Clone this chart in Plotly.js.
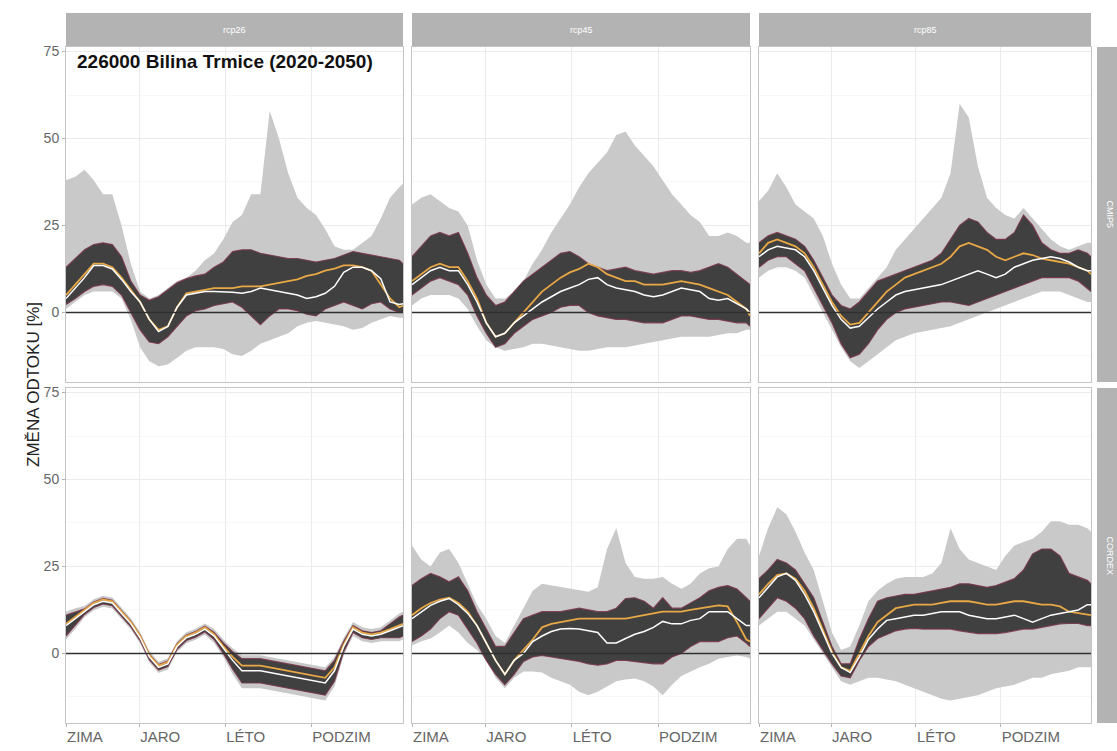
<!DOCTYPE html>
<html>
<head>
<meta charset="utf-8">
<script src="https://cdn.plot.ly/plotly-3.0.1.min.js"></script>
<style>html,body{margin:0;padding:0;background:#fff;}#chart{width:1117px;height:751px;}</style>
</head>
<body>
<div id="chart"></div>
<script>
// ---------- data ----------
const days = [1,11,21,31,41,51,61,71,81,91,101,111,121,131,141,151,161,171,181,191,201,211,221,231,241,251,261,271,281,291,301,311,321,331,341,351,361,365];
const seasonTicks = [1, 80, 173, 266];
const seasonLabels = ['ZIMA', 'JARO', 'LÉTO', 'PODZIM'];
const scenarios = ['rcp26', 'rcp45', 'rcp85'];
const ensembles = ['CMIP5', 'CORDEX'];
const yTicks = [0, 25, 50, 75];

// CMIP5 / rcp26
const cmip_rcp26_envLo = [1,3,5,6,6,6,4,-2,-10,-14,-15.5,-15,-13,-11,-10,-10,-10,-10.5,-12,-12.5,-11,-9,-8,-7,-6,-4,-3,-2.5,-3,-3.5,-4,-5,-4.5,-3,-2,-1,-1.5,-1.5];
const cmip_rcp26_envHi = [38,39,41,38,34,34,25,14,6,4,5,7,9,10,12,15,17,21,26,28,34,34,58,50,40,33,30,28,24,19,18,18,20,22,27,33,36,37];
const cmip_rcp26_midLo = [2.3,4,6,7.5,8,7.5,5,0,-5,-8.5,-9,-7,-4,-1,0.5,1,2,2.5,3,1.5,-1,-3.5,-1,1,1,0.5,-0.5,-1,1,2,3,2,1,2.5,3,1,0,0];
const cmip_rcp26_midHi = [13,15.5,18,19.5,20,19.5,16,9,5,3.5,4.5,6.5,8.5,9.7,10.5,11,13,14.5,17.5,18,18,17,16.5,16,15.5,15.5,15,14.5,15,15.5,16.5,17.5,17,16.6,16,15.5,15,14];
const cmip_rcp26_white = [4,7,10,13.5,13.5,12.5,9.5,6,3,-2,-5.5,-4,1.5,5,5.5,6,6,6,5.8,5.5,6,7,6.5,6,5.5,5,4,4.5,5.5,7.5,11.5,13,13,12,9.7,3,2.3,2.5];
const cmip_rcp26_orange = [5,8,11,14,14,13,10,6.5,3,-2,-5,-4,1.5,5.5,6,6.5,7,7,7,7.5,7.5,7.5,8,8.5,9,9.5,10.5,11,12,12.6,13.5,13.5,13,12,8,4,1.5,2];

// CMIP5 / rcp45
const cmip_rcp45_envLo = [2,4,5,5,5,4,1,-4,-8,-10,-11,-10.5,-10,-9,-9,-9.5,-10,-10.5,-11,-11,-10.5,-10,-10,-10,-9.5,-9,-8.5,-8,-7.5,-7,-7,-7,-7,-6.5,-6,-6,-5,-5];
const cmip_rcp45_envHi = [31,33,34,32,30,29,25,15,8,4,4,6,9,14,18,23,27,31,36,40,43,46,51,52,48,45,42,38,34,31,28,26,22,22,23,22,20,20];
const cmip_rcp45_midLo = [5,7,9,10,9,8,5,-1,-6,-10,-9,-6,-4,-2,-1,0,1.5,2,2,0,-1,-1.5,-2,-2,-2.5,-3,-3,-3,-2,-1,-1,-1.5,-2,-2,-2.5,-3,-3,-4];
const cmip_rcp45_midHi = [16,19,22,23,22,23,17,10,5,2,3,6,9,11,13,15,17,17.5,16,14,13,12,12.5,13,12,11.5,11,11.5,12,12,11.5,12,13,14,13,11,9,8];
const cmip_rcp45_white = [8,10,12,13,12,12,8,3,-3,-7,-6,-3,-1,1,3,4.5,6,7,8,9.5,10,8,7,6.5,6,5,4.5,5,6,7,6.5,6,4,3.5,4,2.5,1,0];
const cmip_rcp45_orange = [9,11,13,14,13,13,9,4,-3,-7,-6,-3,0,3,6,8,10,11.5,12.5,14,13,11,10,9,9,8,8,8,8.5,9,8.5,8,7,6,5,3,1,-1];

// CMIP5 / rcp85
const cmip_rcp85_envLo = [10,12,13,13,12,10,5,0,-5,-10,-14,-16,-14,-12,-10,-8,-7,-6,-5.5,-5,-4.5,-4,-3,-2,-1,0,1,2,3,4,5,6,6,6,5,4,3,3];
const cmip_rcp85_envHi = [32,35,40,36,31,29,27,22,14,8,4,4,7,10,13,18,21,24,27,30,33,40,60,56,42,33,30,28,27,30,27,24,21,19,18,19,20,20];
const cmip_rcp85_midLo = [13,15,16,16,14,12,7,2,-3,-9,-13,-12,-9,-5,-2,0,1,1.5,2,2.5,3,3,2.5,2,3,4,5,6,7,8,9,10,10,10,10,9,7,6];
const cmip_rcp85_midHi = [20,22,23,22,21,19,15,10,5,2,1,3,6,9,10,11,12,13,14,15,17,21,25,27,26,23,21,21,23,28,25,20,18,17,17,18,17,16];
const cmip_rcp85_white = [16,18,19,18.5,18,16,12,7,2,-2,-4.5,-4,-1.5,1,3,5,6,6.5,7,7.5,8,9,10,11,12,11,10,11,13,14,15,15.5,16,15.5,14.5,13,12,12];
const cmip_rcp85_orange = [17,20,21,20,19,17,13,8,3,-1,-3.5,-3,0,3,6,8,10,11,12,13,14,16,19,20,19,18,16,15,16,17,16.5,15.5,15,14.5,14,13,12,11];

// CORDEX / rcp26
const cordex_rcp26_envLo = [4,7,10.4,12.4,13.4,12.9,9.9,6.9,2.9,-2.6,-5.6,-4.6,0.4,2.9,3.9,5.4,3,-1,-6,-10,-10,-10,-10.5,-11,-11.5,-12,-12.5,-13,-13.5,-9.5,-0.5,5,3.5,3,3.5,3.5,3.5,4];
const cordex_rcp26_envHi = [12,13,13.6,15.6,16.6,16.1,13.1,10.1,6.1,0.6,-2.4,-1.4,3.6,6.1,7.1,8.6,7,4,1.5,-0.5,-0.5,-0.5,-1,-1.5,-2,-2.5,-3,-3.5,-4,-1,4.5,9,7.5,7,7.5,9.5,11.5,12];
const cordex_rcp26_midLo = [5,8,11.2,13.2,14.2,13.7,10.7,7.7,3.7,-1.8,-4.8,-3.8,1.2,3.7,4.7,6.2,4,0,-4.5,-8.5,-8.5,-8.5,-9,-9.5,-10,-10.5,-11,-11.5,-12,-8,0.5,6,4.5,4,4.5,4.5,4.5,5];
const cordex_rcp26_midHi = [11,12,12.8,14.8,15.8,15.3,12.3,9.3,5.3,-0.2,-3.2,-2.2,2.8,5.3,6.3,7.8,6,3,0.5,-1.5,-1.5,-1.5,-2,-2.5,-3,-3.5,-4,-4.5,-5,-2,3.5,8,6.5,6,6.5,8.5,10.5,11];
const cordex_rcp26_white = [8,10,12,14,15,14.5,11.5,8.5,4.5,-1,-4,-3,2,4.5,5.5,7,5,1.5,-2,-5,-5,-5,-5.5,-6,-6.5,-7,-7.5,-8,-8.5,-5,2,7,5.5,5,5.5,6.5,7.5,8];
const cordex_rcp26_orange = [8.5,10.5,12.5,14.5,15.5,15,12,9,5,-0.5,-3.5,-2.5,2.5,5,6,7.5,5.5,2,-1,-3.5,-3.5,-3.5,-4,-4.5,-5,-5.5,-6,-6.5,-7,-4,2.5,7.5,6,5.5,6,7,8,8.5];

// CORDEX / rcp45
const cordex_rcp45_envLo = [2.3,3.5,4.3,6,8,6,3,1,-2,-7,-10,-7,-5.2,-5.2,-5.5,-7,-8,-9,-11,-12,-11,-9.5,-8,-7.5,-7.2,-8,-9.5,-12,-9,-6.5,-5.2,-4,-3,-1.5,-1,-0.6,-1,-1.5];
const cordex_rcp45_envHi = [31,27,25,29,30,26,20,14,10,5,3,8,13,18,20,19.5,19,18.5,18,17.7,19,30,36,26,22,21.5,21.5,22,20,18.6,20,23,24.5,25,30,33,33,31];
const cordex_rcp45_midLo = [3.4,5,7,10,12,11,7,3,-2,-6,-9,-6,-2.3,-1,-0.6,-1,-1.4,-2,-2.3,-3,-3.4,-3,-2,-2,-2.3,-2.5,-3,-3,-1,0,2,3.4,3.4,3.4,4.5,5,3,2];
const cordex_rcp45_midHi = [19.5,21.5,23,22,20.6,22,18,12,7,2,2,6,10,11,12,12,12,12.5,13,12.5,12,12,13,15.8,16,15,13,16,13,13,14.5,16,18,19,19.5,18.5,16,15];
const cordex_rcp45_white = [10,12,13.8,15,15.8,14,11.5,8,3,-2,-6,-2,0,3.4,5,6.3,7,7.2,7,6.5,6,3,3,4.3,5.5,6.3,7.5,9.2,8.5,8.5,9.5,10,12,12,12,10,8,8];
const cordex_rcp45_orange = [11,13,14.5,15.5,16,14.5,12,8,3,-2,-6,-2,1,4,7.5,8.5,9,9.5,10,10,10,10,10,10,10.5,10.9,11.5,12,12,12,12.5,12.9,13.5,13.8,13.5,9,4,3.4];

// CORDEX / rcp85
const cordex_rcp85_envLo = [8,10,12,12,10,8,4,0,-4,-8,-9,-8,-7,-7,-7.5,-8,-9,-10,-11,-12,-13,-13.5,-13,-12.5,-12,-11,-10,-9.5,-9,-8,-7,-7,-6,-5.5,-5,-4,-4,-4];
const cordex_rcp85_envHi = [28,36,42,40,35,29,24,15,6,1,2,8,15,18,20,21.5,22,22,22,23,26,36,30,27,26,25,24,28,31,32,33,35,38,38,37,37,36,35];
const cordex_rcp85_midLo = [10,13,16,15,13,10,5,1,-3,-6.5,-7,-2,2,4.3,5.5,6.5,7,7.2,7,7,7,7,6.5,6,5.7,5.7,5.7,6,6.5,7,7,7.5,8,8.5,8.6,8.6,8,8];
const cordex_rcp85_midHi = [21.5,24,27,26,24,20,16,9,2,-3,-3,4,10,15,16,16.5,17,17,17.5,18,18.6,19,20,20,19.5,19,19.5,20.5,21.5,24,28.6,30,30,28,23,22,21,20];
const cordex_rcp85_white = [16,19,22,23,21,17,12,6,0,-4,-5.5,-1,4,7,9.5,10,10.5,11,11,11.5,12,12,12,11,10.5,10,10,10.5,11,10,9,10,11,11.5,12,12.5,14,14];
const cordex_rcp85_orange = [17,20,22.5,23,21.5,18,13,7,0.5,-4,-5,0,5,9,11,13,13.5,14,14,14,14.5,15,15,15,14.5,14,14,14.5,15,15,14.5,14,14,13.5,12,11.5,11,11];

// ---------- panels ----------
const panels = [
  {envLo: cmip_rcp26_envLo, envHi: cmip_rcp26_envHi, midLo: cmip_rcp26_midLo, midHi: cmip_rcp26_midHi, white: cmip_rcp26_white, orange: cmip_rcp26_orange},
  {envLo: cmip_rcp45_envLo, envHi: cmip_rcp45_envHi, midLo: cmip_rcp45_midLo, midHi: cmip_rcp45_midHi, white: cmip_rcp45_white, orange: cmip_rcp45_orange},
  {envLo: cmip_rcp85_envLo, envHi: cmip_rcp85_envHi, midLo: cmip_rcp85_midLo, midHi: cmip_rcp85_midHi, white: cmip_rcp85_white, orange: cmip_rcp85_orange},
  {envLo: cordex_rcp26_envLo, envHi: cordex_rcp26_envHi, midLo: cordex_rcp26_midLo, midHi: cordex_rcp26_midHi, white: cordex_rcp26_white, orange: cordex_rcp26_orange},
  {envLo: cordex_rcp45_envLo, envHi: cordex_rcp45_envHi, midLo: cordex_rcp45_midLo, midHi: cordex_rcp45_midHi, white: cordex_rcp45_white, orange: cordex_rcp45_orange},
  {envLo: cordex_rcp85_envLo, envHi: cordex_rcp85_envHi, midLo: cordex_rcp85_midLo, midHi: cordex_rcp85_midHi, white: cordex_rcp85_white, orange: cordex_rcp85_orange}
];

// ---------- layout geometry (pixels) ----------
const W = 1117, H = 751;
const colPx = [[66, 403], [412, 750], [759, 1091]];
const rowPx = [[47, 382], [388, 723]];
const px2x = p => p / W;
const px2y = p => 1 - p / H;

const FONT = 'Liberation Sans, Arial, sans-serif';
const traces = [];
const layout = {
  width: W, height: H, autosize: false,
  margin: {l: 0, r: 0, t: 0, b: 0, pad: 0},
  paper_bgcolor: '#ffffff', plot_bgcolor: '#ffffff',
  showlegend: false,
  font: {family: FONT, color: '#4d4d4d'},
  shapes: [], annotations: []
};

panels.forEach((p, i) => {
  const n = i + 1;
  const row = Math.floor(i / 3), col = i % 3;
  const xa = n === 1 ? 'x' : 'x' + n;
  const ya = n === 1 ? 'y' : 'y' + n;
  const base = {x: days, xaxis: xa, yaxis: ya, mode: 'lines', hoverinfo: 'skip', showlegend: false};
  traces.push(Object.assign({}, base, {y: p.envLo, line: {width: 0, color: '#c9c9c9'}}));
  traces.push(Object.assign({}, base, {y: p.envHi, fill: 'tonexty', fillcolor: '#c9c9c9', line: {width: 0, color: '#c9c9c9'}}));
  traces.push(Object.assign({}, base, {y: p.midLo, line: {width: 1.2, color: 'rgba(120,52,70,0.85)'}}));
  traces.push(Object.assign({}, base, {y: p.midHi, fill: 'tonexty', fillcolor: '#404040', line: {width: 1.2, color: 'rgba(120,52,70,0.85)'}}));
  traces.push(Object.assign({}, base, {y: p.orange, line: {width: 1.8, color: '#e8a846'}}));
  traces.push(Object.assign({}, base, {y: p.white, line: {width: 1.5, color: '#ffffff'}}));

  const xKey = n === 1 ? 'xaxis' : 'xaxis' + n;
  const yKey = n === 1 ? 'yaxis' : 'yaxis' + n;
  layout[xKey] = {
    domain: [px2x(colPx[col][0]), px2x(colPx[col][1])],
    anchor: ya, range: [1, 365], fixedrange: true,
    tickmode: 'array', tickvals: seasonTicks, ticktext: seasonLabels,
    showticklabels: row === 1, ticks: row === 1 ? 'outside' : '', ticklen: 3, tickcolor: '#b3b3b3',
    ticklabelposition: 'outside right',
    tickfont: {family: FONT, size: 15, color: '#666666'},
    showgrid: true, gridcolor: '#ebebeb', gridwidth: 1,
    zeroline: false, showline: true, mirror: true, linecolor: '#c4c4c4', linewidth: 1
  };
  layout[yKey] = {
    domain: [px2y(rowPx[row][1]), px2y(rowPx[row][0])],
    anchor: xa, range: [-20, 76.3], fixedrange: true,
    tickmode: 'array', tickvals: yTicks,
    showticklabels: col === 0, ticks: col === 0 ? 'outside' : '', ticklen: 3, tickcolor: '#b3b3b3',
    tickfont: {family: FONT, size: 14, color: '#666666'},
    showgrid: true, gridcolor: '#ebebeb', gridwidth: 1,
    minor: {dtick: 12.5, tick0: 0, showgrid: true, gridcolor: '#f4f4f4', gridwidth: 0.6, ticks: ''},
    zeroline: false, showline: true, mirror: true, linecolor: '#c4c4c4', linewidth: 1
  };
  layout.shapes.push({type: 'line', xref: xa + ' domain', yref: ya, x0: 0, x1: 1, y0: 0, y1: 0,
    line: {color: '#303030', width: 1.6}, layer: 'above'});
});

// top strips
scenarios.forEach((s, c) => {
  layout.shapes.push({type: 'rect', xref: 'paper', yref: 'paper',
    x0: px2x(colPx[c][0]), x1: px2x(colPx[c][1]), y0: px2y(46), y1: px2y(13),
    fillcolor: '#b3b3b3', line: {width: 0}, layer: 'below'});
  layout.annotations.push({xref: 'paper', yref: 'paper', x: px2x((colPx[c][0] + colPx[c][1]) / 2), y: px2y(29.5),
    text: s, showarrow: false, xanchor: 'center', yanchor: 'middle', font: {family: FONT, size: 9, color: '#ffffff'}});
});
// right strips
ensembles.forEach((e, r) => {
  layout.shapes.push({type: 'rect', xref: 'paper', yref: 'paper',
    x0: px2x(1097), x1: 1.02, y0: px2y(rowPx[r][1]), y1: px2y(rowPx[r][0]),
    fillcolor: '#b3b3b3', line: {width: 0}, layer: 'below'});
  layout.annotations.push({xref: 'paper', yref: 'paper', x: px2x(1110), y: px2y((rowPx[r][0] + rowPx[r][1]) / 2),
    text: e, showarrow: false, textangle: 90, xanchor: 'center', yanchor: 'middle', font: {family: FONT, size: 9, color: '#ffffff'}});
});
// title inside first panel
layout.annotations.push({xref: 'paper', yref: 'paper', x: px2x(75), y: px2y(62),
  text: '<b>226000 Bilina Trmice (2020-2050)</b>', showarrow: false, xanchor: 'left', yanchor: 'middle',
  font: {family: FONT, size: 19, color: '#111111'}});
// y axis title
layout.annotations.push({xref: 'paper', yref: 'paper', x: px2x(33), y: px2y(385),
  text: 'ZMĚNA ODTOKU [%]', showarrow: false, textangle: -90, xanchor: 'center', yanchor: 'middle',
  font: {family: FONT, size: 17, color: '#222222'}});

Plotly.newPlot('chart', traces, layout, {staticPlot: true, displayModeBar: false});
</script>
</body>
</html>
